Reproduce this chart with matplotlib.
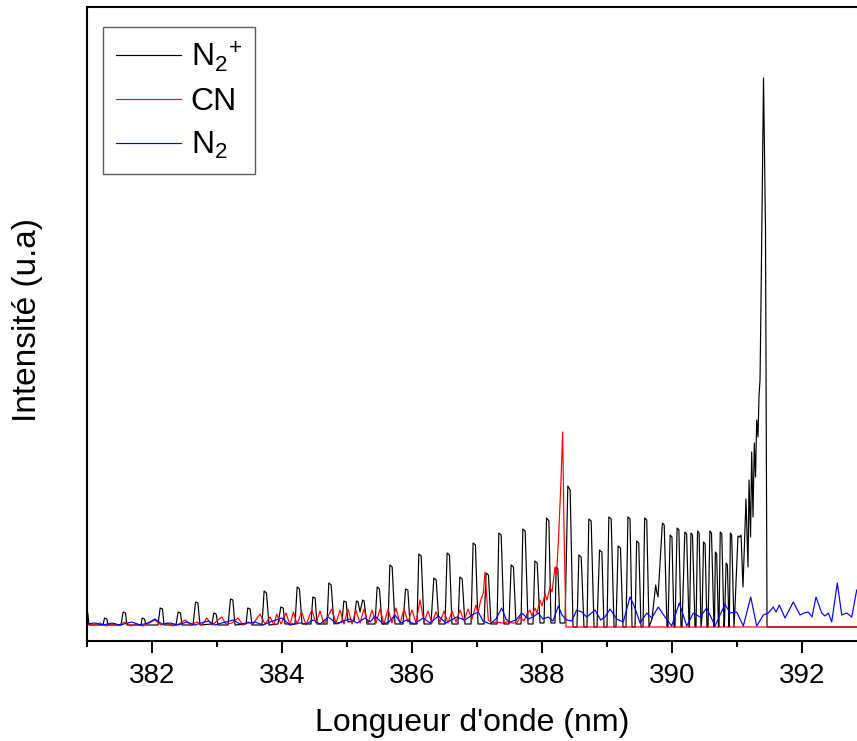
import matplotlib
matplotlib.use('Agg')
import matplotlib.pyplot as plt
from matplotlib.ticker import MultipleLocator

# N2+ first negative band head (black), one row per rotational line
n2p_wl = [381.000, 381.012, 381.031,
          381.246, 381.270, 381.306, 381.323,
          381.523, 381.556, 381.592, 381.615,
          381.831, 381.848, 381.884, 381.908,
          382.092, 382.125, 382.161, 382.185,
          382.369, 382.402, 382.438, 382.462,
          382.631, 382.670, 382.706, 382.738,
          382.923, 382.951, 382.987, 383.015,
          383.169, 383.208, 383.244, 383.277,
          383.446, 383.474, 383.510, 383.538,
          383.692, 383.725, 383.761, 383.800,
          383.938, 383.982, 384.018, 384.046,
          384.200, 384.233, 384.269, 384.308,
          384.446, 384.474, 384.510, 384.538,
          384.692, 384.720, 384.756, 384.800,
          384.923, 384.951, 384.987, 385.015,
          385.108, 385.145, 385.170, 385.200, 385.240, 385.262, 385.308,
          385.431, 385.464, 385.500, 385.538,
          385.631, 385.659, 385.695, 385.738,
          385.862, 385.900, 385.936, 385.969,
          386.077, 386.105, 386.141, 386.185,
          386.292, 386.336, 386.372, 386.415,
          386.508, 386.540, 386.576, 386.615,
          386.708, 386.736, 386.772, 386.815,
          386.908, 386.940, 386.976, 387.015,
          387.108, 387.140, 387.176, 387.215,
          387.308, 387.336, 387.372, 387.415,
          387.492, 387.525, 387.561, 387.600,
          387.677, 387.705, 387.741, 387.785,
          387.862, 387.890, 387.926, 387.969,
          388.031, 388.070, 388.106, 388.138,
          388.200, 388.218, 388.244, 388.277,
          388.354, 388.397, 388.433, 388.477,
          388.538, 388.567, 388.603, 388.646,
          388.692, 388.720, 388.756, 388.800,
          388.846, 388.885, 388.921, 388.954,
          389.000, 389.028, 389.064, 389.108,
          389.138, 389.171, 389.207, 389.246,
          389.292, 389.322, 389.354, 389.385,
          389.431, 389.456, 389.488, 389.523,
          389.554, 389.579, 389.611, 389.646,
          389.692, 389.749, 389.765, 389.785,
          389.852, 389.880, 389.923,
          389.938, 389.971, 389.999, 390.031,
          390.046, 390.078, 390.106, 390.138,
          390.154, 390.197, 390.225, 390.262,
          390.269, 390.291, 390.315, 390.354,
          390.369, 390.393, 390.417, 390.446,
          390.462, 390.485, 390.509, 390.538,
          390.554, 390.583, 390.607, 390.646,
          390.654, 390.667, 390.687, 390.715,
          390.723, 390.742, 390.766, 390.800,
          390.808, 390.832, 390.852, 390.877,
          390.885, 390.898, 390.918, 390.954,
          390.969, 391.015, 391.040, 391.062, 391.092, 391.138, 391.169,
          391.185, 391.208, 391.226, 391.246, 391.266, 391.285, 391.303,
          391.323, 391.338, 391.354, 391.369, 391.408, 391.438, 391.462,
          392.846]
n2p_int = [15, 14, 2,
           2, 9, 8, 2,
           2, 15, 14, 2,
           2, 9, 8, 2,
           2, 19, 18, 2,
           2, 15, 14, 2,
           2, 25, 24, 2,
           3, 14, 13, 2,
           2, 28, 27, 2,
           3, 19, 18, 2,
           2, 36, 34, 2,
           3, 20, 19, 3,
           3, 40, 38, 3,
           3, 30, 29, 3,
           3, 44, 42, 3,
           5, 26, 25, 5,
           6, 26, 25, 15, 27, 26, 3,
           3, 40, 38, 3,
           3, 62, 60, 3,
           3, 38, 37, 3,
           3, 73, 71, 3,
           3, 49, 47, 3,
           3, 74, 72, 3,
           3, 50, 48, 3,
           3, 84, 82, 3,
           3, 54, 52, 3,
           3, 94, 92, 3,
           3, 62, 60, 3,
           3, 98, 96, 3,
           3, 66, 64, 4,
           4, 109, 106, 4,
           4, 60, 58, 4,
           4, 141, 137, 0,
           0, 72, 70, 0,
           0, 108, 106, 0,
           0, 77, 75, 0,
           0, 110, 108, 0,
           0, 81, 79, 0,
           0, 110, 108, 0,
           0, 86, 84, 0,
           0, 109, 107, 0,
           8, 42, 35, 30,
           104, 102, 0,
           0, 92, 90, 0,
           0, 99, 97, 0,
           0, 95, 93, 0,
           0, 94, 92, 0,
           0, 96, 94, 0,
           10, 85, 83, 0,
           0, 96, 94, 0,
           5, 75, 73, 0,
           0, 95, 93, 0,
           5, 64, 62, 0,
           20, 94, 92, 0,
           20, 91, 90, 92, 40, 128, 60,
           147, 90, 175, 110, 184, 150, 207,
           190, 230, 247, 324, 549, 400, 0,
           0]

# CN violet band head (red)
cn_wl = [381.000, 381.092, 381.200, 381.292, 381.400, 381.492, 381.585, 381.677,
         381.769, 381.862, 381.954, 382.046, 382.138, 382.231, 382.323, 382.415,
         382.508, 382.600, 382.692, 382.769, 382.842, 382.923, 383.000, 383.072,
         383.138, 383.231, 383.323, 383.400, 383.477, 383.554, 383.662, 383.738,
         383.815, 383.877, 383.918, 383.985, 384.062, 384.123, 384.174, 384.231,
         384.303, 384.369, 384.457, 384.523, 384.585, 384.646, 384.765, 384.831,
         384.892, 384.954, 385.015, 385.077, 385.138, 385.200, 385.262, 385.323,
         385.385, 385.446, 385.508, 385.569, 385.631, 385.692, 385.754, 385.815,
         385.877, 385.938, 386.000, 386.062, 386.123, 386.185, 386.246, 386.308,
         386.369, 386.431, 386.492, 386.554, 386.615, 386.677, 386.738, 386.800,
         386.862, 386.923, 386.985, 387.015, 387.062, 387.097, 387.123, 387.174,
         387.231, 387.308, 387.385, 387.462, 387.538, 387.615, 387.662, 387.723,
         387.769, 387.815, 387.846, 387.892, 387.923, 387.969, 388.000, 388.046,
         388.077, 388.123, 388.154, 388.200, 388.223, 388.251, 388.288, 388.318,
         388.338, 388.369, 392.846]
cn_int = [3, 2, 4, 1, 3, 2, 5, 1,
          3, 1, 4, 7, 2, 4, 1, 3,
          7, 2, 5, 2, 9, 2, 6, 10,
          3, 4, 9, 2, 5, 3, 13, 3,
          10, 2, 13, 3, 14, 2, 15, 3,
          15, 2, 17, 4, 16, 3, 18, 4,
          17, 3, 18, 3, 17, 4, 18, 3,
          17, 4, 18, 3, 18, 4, 19, 3,
          18, 5, 17, 4, 27, 5, 16, 4,
          15, 5, 16, 4, 16, 5, 17, 6,
          18, 8, 22, 14, 28, 34, 55, 7,
          4, 5, 4, 5, 4, 4, 10, 6,
          13, 17, 11, 19, 14, 27, 21, 33,
          27, 40, 35, 60, 52, 84, 140, 195,
          100, 0, 0]

# N2 second positive (blue)
n2_wl = [381.000, 381.123, 381.246, 381.385, 381.508, 381.688, 381.815, 381.938,
         382.046, 382.154, 382.277, 382.400, 382.534, 382.662, 382.754, 382.866,
         382.969, 383.077, 383.251, 383.354, 383.477, 383.585, 383.708, 383.815,
         383.995, 384.123, 384.277, 384.369, 384.482, 384.585, 384.712, 384.846,
         384.938, 385.046, 385.154, 385.277, 385.354, 385.431, 385.554, 385.646,
         385.738, 385.831, 385.918, 386.031, 386.174, 386.277, 386.405, 386.523,
         386.688, 386.815, 386.923, 387.020, 387.092, 387.200, 387.292, 387.380,
         387.446, 387.508, 387.600, 387.688, 387.789, 387.862, 387.943, 388.015,
         388.097, 388.169, 388.251, 388.308, 388.380, 388.457, 388.534, 388.611,
         388.688, 388.815, 388.903, 388.969, 389.046, 389.149, 389.251, 389.354,
         389.431, 389.508, 389.611, 389.688, 389.789, 389.892, 389.995, 390.112,
         390.226, 390.328, 390.431, 390.534, 390.662, 390.815, 390.892, 390.995,
         391.097, 391.211, 391.303, 391.405, 391.482, 391.558, 391.600, 391.651,
         391.738, 391.866, 391.969, 392.031, 392.097, 392.154, 392.215, 392.303,
         392.354, 392.405, 392.457, 392.543, 392.611, 392.688, 392.765, 392.842]
n2_int = [3, 4, 2, 4, 2, 5, 2, 4,
          8, 3, 4, 2, 5, 2, 4, 6,
          2, 4, 7, 3, 4, 5, 2, 5,
          9, 2, 4, 3, 7, 3, 10, 3,
          6, 8, 4, 9, 5, 11, 3, 5,
          12, 4, 7, 3, 9, 4, 11, 4,
          10, 7, 12, 15, 6, 3, 8, 19,
          8, 5, 7, 14, 8, 10, 14, 8,
          10, 6, 21, 12, 7, 6, 17, 15,
          10, 17, 7, 10, 18, 8, 5, 30,
          19, 4, 14, 9, 20, 10, 1, 24,
          1, 14, 10, 19, 1, 23, 14, 15,
          1, 30, 1, 12, 14, 20, 15, 22,
          9, 25, 12, 14, 15, 10, 30, 14,
          11, 14, 5, 44, 12, 14, 10, 37]

labels = [r'N$_2$$^{\!+}$', 'CN', r'N$_2$']
colors = ['black', '#ff0000', '#0000ff']

plt.rcParams['font.family'] = ['Liberation Sans', 'DejaVu Sans']
plt.rcParams['mathtext.fontset'] = 'custom'
plt.rcParams['mathtext.rm'] = 'Liberation Sans'
plt.rcParams['mathtext.it'] = 'Liberation Sans'

fig = plt.figure(figsize=(8.57, 7.41), dpi=100)
ax = fig.add_axes([87 / 857, 100 / 741, 770 / 857, 634 / 741])

for wl, inten, lab, col in zip([n2p_wl, cn_wl, n2_wl], [n2p_int, cn_int, n2_int], labels, colors):
    ax.plot(wl, inten, color=col, lw=0.85, label=lab)

ax.set_xlim(381.0, 392.846)
ax.set_ylim(-14, 620)
ax.xaxis.set_major_locator(MultipleLocator(2))
ax.xaxis.set_minor_locator(MultipleLocator(1))
ax.set_yticks([])
ax.tick_params(axis='x', which='major', direction='out', length=8.6, width=1.4,
               labelsize=20, pad=7)
ax.tick_params(axis='x', which='minor', direction='out', length=4.3, width=1.4)
for side in ['left', 'bottom', 'top']:
    ax.spines[side].set_linewidth(1.5)
ax.spines['right'].set_visible(False)

ax.set_xlabel("Longueur d'onde (nm)", fontsize=23)
ax.xaxis.set_label_coords(0.5, -0.105)
ax.set_ylabel('Intensité (u.a)', fontsize=24)
ax.yaxis.set_label_coords(-0.057, 0.506)

leg = ax.legend(loc='upper left', bbox_to_anchor=(16 / 770, 1 - 20 / 634),
                borderaxespad=0, fontsize=23, frameon=True, fancybox=False,
                handlelength=2.05, handletextpad=0.3, labelspacing=0.4,
                borderpad=0.4)
leg.get_frame().set_edgecolor('#333333')
leg.get_frame().set_linewidth(1.0)

fig.savefig('out.png', dpi=100)
